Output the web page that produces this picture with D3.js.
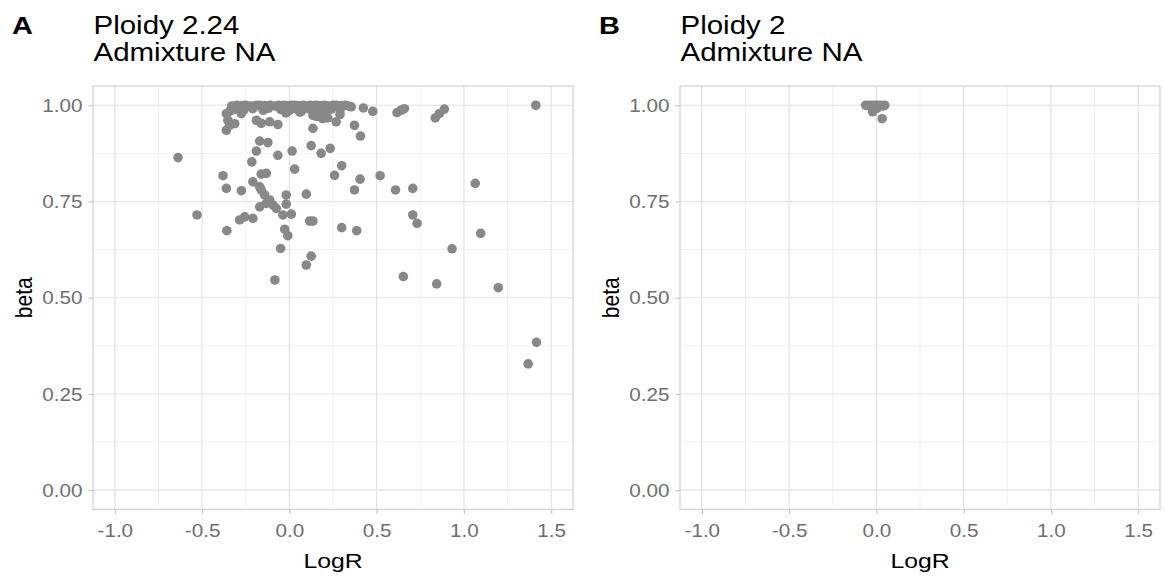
<!DOCTYPE html>
<html>
<head>
<meta charset="utf-8">
<script src="https://cdn.jsdelivr.net/npm/d3@7"></script>
<style>
  html, body { margin: 0; padding: 0; background: #ffffff; }
  svg { display: block; }
  text { font-family: "Liberation Sans", Arial, Helvetica, sans-serif; }
</style>
</head>
<body>
<svg id="chart" width="1165" height="578"></svg>
<script>
// ---- data ----------------------------------------------------------------
const panelLetters = ["A", "B"];
const panelTitles = [["Ploidy 2.24", "Admixture NA"], ["Ploidy 2", "Admixture NA"]];
const xTicks = [-1.0, -0.5, 0.0, 0.5, 1.0, 1.5];
const yTicks = [0.00, 0.25, 0.50, 0.75, 1.00];
const xMinor = [-0.75, -0.25, 0.25, 0.75, 1.25];
const yMinor = [0.125, 0.375, 0.625, 0.875];
const xTitle = "LogR";
const yTitle = "beta";

// Panel A: segments (LogR, beta)
const logRA = [
  // scattered tail to the right
  0.354, 0.424, 0.478, 0.617, 0.640, 0.659, 0.836, 0.859, 0.888, 1.412,
  0.373, 0.407, 0.405, 0.373, 0.520, 0.608, 0.707, 1.065, 0.707, 0.732,
  0.386, 1.096, 0.932, 0.653, 0.844, 1.197, 1.416, 1.368,
  // central cloud
  -0.189, -0.066, 0.135, 0.268, -0.361, -0.352, -0.342, -0.361, -0.313, -0.170,
  -0.123, -0.189, -0.066, 0.016, 0.125, 0.182, 0.234, -0.215, -0.638, -0.380,
  -0.161, -0.132, 0.030, 0.259, 0.300, -0.361, -0.275, -0.209, -0.170, -0.142,
  -0.018, 0.097,
  -0.161, -0.113, -0.132, -0.170, -0.094, -0.075, -0.018, -0.529, -0.285, -0.256,
  -0.209, -0.037, 0.011, 0.116, 0.135, -0.358, -0.027, -0.009, 0.300, -0.050,
  0.125, 0.097, -0.083,
  // just under the top band
  -0.275, -0.161, -0.113, 0.154, 0.220, 0.135, -0.340, -0.020, 0.060, 0.200,
  0.190, 0.290,
  // top band near beta = 1
  -0.330, -0.300, -0.270, -0.250, -0.220, -0.190, -0.170, -0.140, -0.110, -0.080,
  -0.060, -0.030, -0.010, 0.010, 0.030, 0.050, 0.080, 0.100, 0.120, 0.150,
  0.170, 0.200, 0.220, 0.250, 0.270, 0.300, 0.320, 0.340,
  -0.310, -0.260, -0.210, -0.150, -0.120, -0.050, 0.000, 0.040, 0.070, 0.110,
  0.160, 0.190, 0.240, 0.290
];
const betaA = [
  0.996, 0.993, 0.984, 0.981, 0.987, 0.991, 0.967, 0.978, 0.990, 1.000,
  0.948, 0.920, 0.808, 0.780, 0.817, 0.780, 0.784, 0.797, 0.715, 0.693,
  0.674, 0.667, 0.627, 0.555, 0.536, 0.526, 0.384, 0.328,
  0.961, 0.950, 0.940, 0.957, 0.978, 0.961, 0.948, 0.935, 0.952, 0.907,
  0.903, 0.881, 0.870, 0.881, 0.895, 0.875, 0.888, 0.853, 0.864, 0.817,
  0.821, 0.823, 0.834, 0.818, 0.843, 0.784, 0.778, 0.801, 0.788, 0.767,
  0.767, 0.769,
  0.780, 0.754, 0.745, 0.736, 0.741, 0.732, 0.743, 0.715, 0.702, 0.710,
  0.706, 0.715, 0.717, 0.699, 0.699, 0.674, 0.678, 0.661, 0.682, 0.628,
  0.608, 0.585, 0.546,
  0.978, 0.953, 0.957, 0.971, 0.967, 0.974, 0.985, 0.980, 0.982, 0.978,
  0.965, 0.976,
  0.998, 1.000, 0.999, 1.000, 0.998, 1.000, 1.000, 0.999, 1.000, 0.998,
  1.000, 1.000, 0.999, 1.000, 1.000, 0.999, 1.000, 0.998, 1.000, 1.000,
  0.999, 1.000, 0.998, 1.000, 1.000, 0.999, 1.000, 0.998,
  0.990, 0.988, 0.991, 0.987, 0.992, 0.989, 0.986, 0.990, 0.985, 0.991,
  0.988, 0.984, 0.990, 0.987
];

// Panel B: segments (LogR, beta)
const logRB = [-0.061, -0.048, -0.036, -0.024, -0.011, 0.002, 0.014, 0.026, 0.038, 0.048, -0.021, 0.004, 0.033];
const betaB = [1.000, 0.999, 1.000, 0.998, 1.000, 1.000, 0.999, 1.000, 0.998, 1.000, 0.983, 0.992, 0.965];

const panelData = [
  logRA.map((d, i) => ({ x: d, y: betaA[i] })),
  logRB.map((d, i) => ({ x: d, y: betaB[i] }))
];

// ---- layout ---------------------------------------------------------------
const sx = 1.18;                 // horizontal glyph stretch
const panelOffset = 587;         // distance between the two panels
const plotLeft = 93, plotRight = 573, plotTop = 86, plotBottom = 509.4;
const pointColor = "#888888";

const svg = d3.select("#chart");

function stretchedText(g, x, y, str, opts = {}) {
  return g.append("text")
    .attr("transform", `translate(${x},${y}) scale(${sx},1)`)
    .attr("text-anchor", opts.anchor || "start")
    .attr("font-size", opts.size || 17)
    .attr("font-weight", opts.weight || "normal")
    .attr("fill", opts.fill || "#000")
    .text(str);
}

panelData.forEach((pts, p) => {
  const off = p * panelOffset;
  const g = svg.append("g");

  const x = d3.scaleLinear().domain([-1.125, 1.625]).range([plotLeft + off, plotRight + off]);
  const y = d3.scaleLinear().domain([-0.05, 1.05]).range([plotBottom, plotTop]);

  // minor grid
  g.append("g").selectAll("line.vminor").data(xMinor).join("line")
    .attr("x1", d => x(d)).attr("x2", d => x(d))
    .attr("y1", plotTop).attr("y2", plotBottom)
    .attr("stroke", "#efefef").attr("stroke-width", 0.9);
  g.append("g").selectAll("line.hminor").data(yMinor).join("line")
    .attr("x1", plotLeft + off).attr("x2", plotRight + off)
    .attr("y1", d => y(d)).attr("y2", d => y(d))
    .attr("stroke", "#efefef").attr("stroke-width", 0.9);
  // major grid
  g.append("g").selectAll("line").data(xTicks).join("line")
    .attr("x1", d => x(d)).attr("x2", d => x(d))
    .attr("y1", plotTop).attr("y2", plotBottom)
    .attr("stroke", "#e2e2e2").attr("stroke-width", 1.1);
  g.append("g").selectAll("line").data(yTicks).join("line")
    .attr("x1", plotLeft + off).attr("x2", plotRight + off)
    .attr("y1", d => y(d)).attr("y2", d => y(d))
    .attr("stroke", "#e2e2e2").attr("stroke-width", 1.1);

  // points
  g.append("g").selectAll("circle").data(pts).join("circle")
    .attr("cx", d => x(d.x)).attr("cy", d => y(d.y))
    .attr("r", 4.8).attr("fill", pointColor);

  // panel border
  g.append("rect")
    .attr("x", plotLeft + off).attr("y", plotTop)
    .attr("width", plotRight - plotLeft).attr("height", plotBottom - plotTop)
    .attr("fill", "none").attr("stroke", "#cccccc").attr("stroke-width", 1.1);

  // axes
  const xAxis = g.append("g")
    .attr("transform", `translate(0,${plotBottom})`)
    .call(d3.axisBottom(x).tickValues(xTicks).tickSize(4.5).tickFormat(d => d.toFixed(1)));
  const yAxis = g.append("g")
    .attr("transform", `translate(${plotLeft + off},0)`)
    .call(d3.axisLeft(y).tickValues(yTicks).tickSize(4.5).tickFormat(d => d.toFixed(2)));
  [xAxis, yAxis].forEach(a => {
    a.select(".domain").remove();
    a.selectAll(".tick line").attr("stroke", "#c4c4c4").attr("stroke-width", 1.1);
    a.selectAll(".tick text")
      .attr("fill", "#6e6e6e")
      .attr("font-size", 17.5)
      .attr("font-family", "Liberation Sans, Arial, sans-serif");
  });
  xAxis.selectAll(".tick text")
    .attr("y", null).attr("dy", null)
    .attr("transform", `translate(0,${537 - plotBottom}) scale(${sx},1)`);
  yAxis.selectAll(".tick text")
    .attr("x", null).attr("dy", "0.35em")
    .attr("transform", `translate(-10.5,0) scale(${sx},1)`);

  // axis titles
  stretchedText(g, (plotLeft + plotRight) / 2 + off, 568, xTitle, { anchor: "middle", size: 21 });
  g.append("text")
    .attr("transform", `translate(${32 + off},${(plotTop + plotBottom) / 2}) rotate(-90) scale(1,${sx})`)
    .attr("text-anchor", "middle")
    .attr("font-size", 21)
    .attr("fill", "#000")
    .text(yTitle);

  // panel tag and title
  stretchedText(g, 12 + off, 34.3, panelLetters[p], { size: 24.5, weight: "bold" });
  stretchedText(g, 93.5 + off, 34.3, panelTitles[p][0], { size: 25 });
  stretchedText(g, 93.5 + off, 61, panelTitles[p][1], { size: 25 });
});
</script>
</body>
</html>
